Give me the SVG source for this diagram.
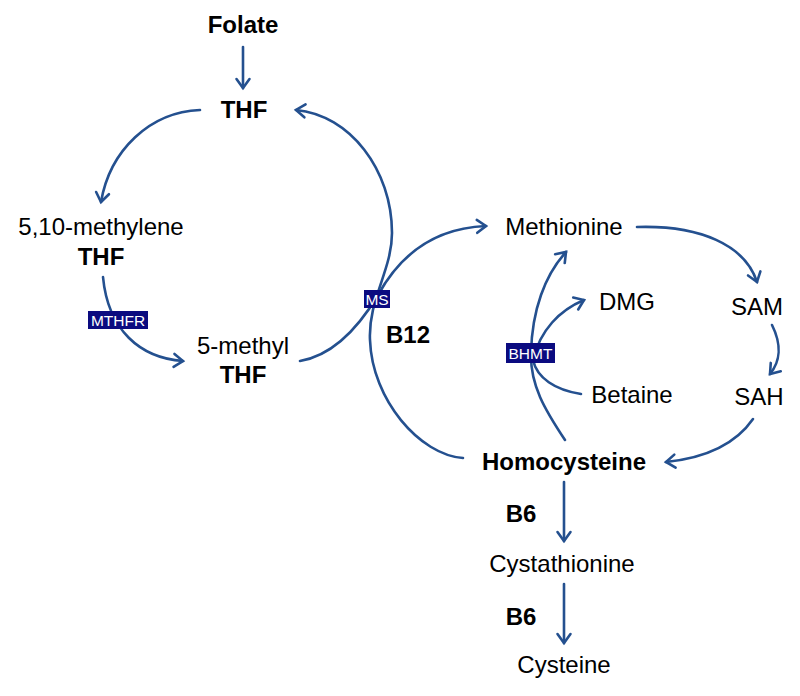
<svg xmlns="http://www.w3.org/2000/svg" width="800" height="696" viewBox="0 0 800 696">
<defs>
<style>
.t{font-family:"Liberation Sans",Arial,sans-serif;font-size:24px;fill:#000;text-anchor:middle}
.b{font-weight:bold}
.c{fill:none;stroke:#24508f;stroke-width:2.6;stroke-linecap:round}
.box{fill:#0b0b80}
.bt{font-family:"Liberation Sans",Arial,sans-serif;font-size:15.5px;fill:#fff;text-anchor:middle}
</style>
<marker id="ah" markerUnits="userSpaceOnUse" markerWidth="20" markerHeight="20" viewBox="-12 -10 16 20" refX="0" refY="0" orient="auto">
<path d="M-9,-6.5 L0,0 L-9,6.5" fill="none" stroke="#24508f" stroke-width="2.6" stroke-linecap="round" stroke-linejoin="miter"/>
</marker>
</defs>
<rect width="800" height="696" fill="#fff"/>
<g id="connectors">
<path class="c" marker-end="url(#ah)" d="M243,47 L243,88"/>
<path class="c" marker-end="url(#ah)" d="M200,110 C150,112 110,150 101,202"/>
<path class="c" marker-end="url(#ah)" d="M103,277 C108,330 140,358 183,361"/>
<path class="c" marker-end="url(#ah)" d="M463,458 C420,455 372,400 370,340 C368,300 392,270 392,233 C392,170 350,115 296,110"/>
<path class="c" marker-end="url(#ah)" d="M300,361 C335,355 360,325 378,295 C400,255 435,228 486,226"/>
<path class="c" marker-end="url(#ah)" d="M637,227 C700,225 745,245 757,282"/>
<path class="c" marker-end="url(#ah)" d="M772,325 C782,345 780,362 770,374"/>
<path class="c" marker-end="url(#ah)" d="M753,419 C735,445 705,458 666,462"/>
<path class="c" marker-end="url(#ah)" d="M565,440 C545,410 530,385 531,353 C532,310 545,275 566,252"/>
<path class="c" marker-end="url(#ah)" d="M581,394 C555,390 537,378 533,360 C540,330 560,310 584,300"/>
<path class="c" marker-end="url(#ah)" d="M564,482 L564,541"/>
<path class="c" marker-end="url(#ah)" d="M564,584 L564,643"/>
</g>
<g id="folate"><text class="t b" x="243" y="33">Folate</text></g>
<g id="thf"><text class="t b" x="244" y="118">THF</text></g>
<g id="methylene-thf"><text class="t" x="101" y="235">5,10-methylene</text><text class="t b" x="101" y="265">THF</text></g>
<g id="methyl-thf"><text class="t" x="243" y="354">5-methyl</text><text class="t b" x="243" y="383">THF</text></g>
<g id="mthfr"><rect class="box" x="88" y="311" width="60" height="18"/><text class="bt" x="118" y="326">MTHFR</text></g>
<g id="ms"><rect class="box" x="364" y="290" width="26" height="18"/><text class="bt" x="377" y="305">MS</text></g>
<g id="b12"><text class="t b" x="408" y="343">B12</text></g>
<g id="methionine"><text class="t" x="564" y="235">Methionine</text></g>
<g id="dmg"><text class="t" x="627" y="310">DMG</text></g>
<g id="betaine"><text class="t" x="632" y="403">Betaine</text></g>
<g id="bhmt"><rect class="box" x="506" y="343" width="49" height="20"/><text class="bt" x="530.5" y="359">BHMT</text></g>
<g id="sam"><text class="t" x="757" y="315">SAM</text></g>
<g id="sah"><text class="t" x="759" y="405">SAH</text></g>
<g id="homocysteine"><text class="t b" x="564" y="470">Homocysteine</text></g>
<g id="b6a"><text class="t b" x="521" y="522">B6</text></g>
<g id="cystathionine"><text class="t" x="562" y="572">Cystathionine</text></g>
<g id="b6b"><text class="t b" x="521" y="625">B6</text></g>
<g id="cysteine"><text class="t" x="564" y="673">Cysteine</text></g>
</svg>
